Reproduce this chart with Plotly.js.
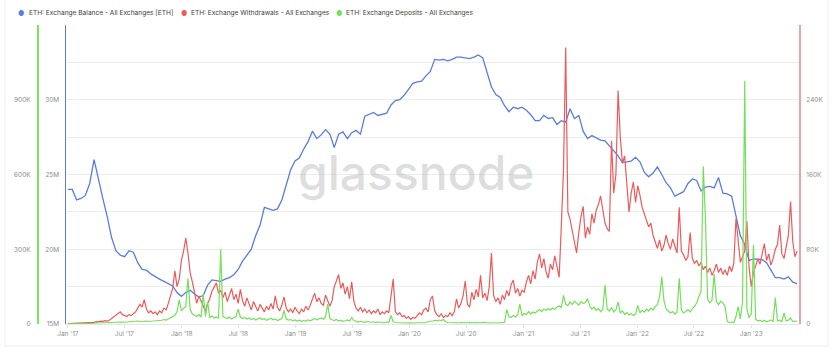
<!DOCTYPE html>
<html><head><meta charset="utf-8">
<script src="https://cdn.plot.ly/plotly-3.0.1.min.js"></script>
<style>html,body{margin:0;padding:0;background:#fff;}#chart{width:832px;height:356px;}</style>
</head><body><div id="chart"></div>
<script>
// ---- data ----
const seriesStart = '2017-01-01';
const balanceStepDays = 14;   // ETH balance sampled every 2 weeks
const flowStepDays = 7;       // withdrawals / deposits sampled weekly

// ETH: Exchange Balance, millions of ETH
const balanceM = [
24.0,24.0,23.3,23.4,23.6,24.4,26.0,24.6,23.4,22.2,
20.8,19.9,19.6,19.5,19.9,19.8,19.1,18.65,18.6,18.35,
18.15,18.0,17.85,17.7,17.55,17.1,16.85,17.1,17.25,17.0,
16.8,16.9,17.6,17.95,17.9,17.85,18.0,18.1,18.3,18.65,
19.2,19.6,20.0,20.9,21.6,22.8,22.7,22.6,22.7,23.3,
24.3,25.3,25.9,26.1,26.7,27.2,27.9,27.4,27.65,28.0,
27.7,26.8,27.7,27.85,27.4,27.8,27.95,27.7,28.9,29.0,
29.15,28.95,29.05,29.1,29.65,29.95,30.0,30.3,30.7,31.1,
31.2,31.25,31.6,31.9,32.7,32.65,32.7,32.6,32.7,32.85,
32.85,32.8,32.75,32.85,33.0,32.8,31.9,30.85,30.35,30.15,
29.6,29.2,29.5,29.4,29.5,29.3,29.0,28.6,28.6,28.95,
28.75,28.8,28.35,28.6,28.5,29.4,28.75,28.95,27.9,27.4,
27.6,27.45,27.3,27.25,26.9,26.6,26.25,25.8,25.85,25.9,
26.15,25.85,25.15,24.85,25.1,25.5,25.0,24.45,24.1,23.55,
23.7,23.85,24.4,24.7,24.6,23.9,24.15,24.2,24.1,24.8,
23.75,23.7,23.55,22.2,20.9,20.3,19.25,19.35,19.3,19.3,
19.1,18.6,18.1,18.1,18.0,18.15,17.8,17.7
];

// ETH: Exchange Withdrawals, thousands of ETH
const withdrawalsK = [
0.5,0.6,0.8,0.7,1,0.9,1.2,1,1.3,1.5,
1.5,2,1.8,2.5,2.2,3,2.8,3.5,3,4,
6,7,9,11,13,10,9,8,10,9,
11,13,17,21,18,26,16,12,14,11,
13,10,14,12,17,15,22,30,38,57,
40,48,68,78,92,76,55,45,33,22,
30,24,19,14,22,27,35,40,44,33,
36,28,34,24,30,38,26,32,22,37,
25,19,28,22,15,24,18,14,21,17,
13,19,15,22,16,30,18,14,20,29,
17,13,16,12,18,14,11,16,13,19,
15,20,26,33,24,28,22,20,31,24,
19,25,40,46,53,38,44,32,40,27,
45,24,17,14,18,13,16,12,15,11,
14,12,16,10,13,11,14,12,28,48,
13,10,12,8,9,6,8,5,7,6,
9,12,10,15,17,13,26,30,14,10,
8,11,7,9,8,12,9,13,27,17,
22,30,46,21,18,34,26,37,29,52,
28,33,25,40,76,30,24,28,21,31,
26,36,30,42,47,33,38,30,36,34,
45,52,43,57,48,66,75,60,70,56,
49,64,58,73,62,50,105,165,296,120,
112,100,85,76,98,115,126,92,104,96,
118,108,122,128,137,120,108,102,99,196,
140,160,250,200,172,180,150,120,140,152,
130,148,138,125,118,112,104,108,95,88,
81,90,78,84,95,86,80,91,82,76,
125,78,74,68,72,98,70,65,68,62,
66,58,62,55,60,52,57,64,55,60,
53,58,52,62,56,65,113,90,66,72,
78,110,60,40,55,62,70,64,74,86,
68,75,63,70,80,85,106,75,70,82,
95,131,88,72,78
];

// ETH: Exchange Deposits, thousands of ETH
const depositsK = [
0.5,0.5,1,1,1.5,1.5,2,2,2.5,3,
3,3.5,3,4,4.5,4,5,5,5.5,6,
6,5,7,6,7,8,7,8,9,8,
9,10,12,10,11,14,12,10,11,12,
13,11,14,15,18,16,20,24,28,35,
50,97,55,62,70,183,60,40,34,30,
38,28,120,30,89,25,32,24,28,22,
300,30,26,22,28,20,26,30,60,28,
22,26,20,24,18,22,16,20,25,18,
21,15,19,23,17,20,14,18,22,55,
20,16,18,13,16,12,15,11,14,12,
16,13,18,22,17,20,24,19,28,80,
22,17,14,18,12,15,11,13,16,12,
26,14,10,8,11,9,7,10,8,7,
9,6,8,7,9,6,8,7,34,9,
6,5,6,4,5,4,5,4,3,4,
5,4,6,5,7,8,10,12,15,13,
16,14,18,9,6,5,7,5,6,4,
6,5,7,5,6,4,5,6,4,5,
7,5,6,4,5,6,5,4,6,5,
7,58,30,26,34,28,36,80,34,42,
38,50,40,48,44,52,58,50,60,54,
62,56,64,58,68,72,66,115,80,74,
88,78,92,84,76,90,82,86,102,72,
60,68,55,62,50,58,156,60,52,66,
48,56,89,44,52,38,46,36,42,34,
40,75,45,55,48,60,52,64,56,70,
78,110,189,95,60,52,44,50,40,48,
183,56,44,50,58,48,62,70,85,110,
130,633,424,100,85,95,200,90,78,92,
84,70,10,6,8,5,30,70,20,90,
975,60,25,40,317,20,12,15,10,14,
9,12,16,10,105,12,15,10,45,12,
15,24,10,12,9
];

// axis ticks
const balanceTickVals = [15,17.5,20,22.5,25,27.5,30,32.5,35];
const balanceTickText = ['15M','','20M','','25M','','30M','',''];
const withdrawTickVals = [0,80,160,240];
const withdrawTickText = ['0','80K','160K','240K'];
const depositTickVals = [0,300,600,900];
const depositTickText = ['0','300K','600K','900K'];

const names = [
  'ETH: Exchange Balance - All Exchanges [ETH]',
  'ETH: Exchange Withdrawals - All Exchanges',
  'ETH: Exchange Deposits - All Exchanges'
];
const colors = ['#5a7ce2', '#ec5b5b', '#74e05a'];

// ---- build ----
function makeDates(n, stepDays) {
  const t0 = Date.parse(seriesStart + 'T00:00:00Z');
  const out = [];
  for (let k = 0; k < n; k++) out.push(new Date(t0 + k * stepDays * 86400000).toISOString().slice(0, 10));
  return out;
}

const W = 832, H = 356, ML = 37, MR = 33, MT = 25, MB = 32;
const PW = W - ML - MR, PH = H - MT - MB;
const fx = p => (p - ML) / PW;         // pixel -> paper x
const fy = p => (H - MB - p) / PH;     // pixel -> paper y

const traces = [
  {x: makeDates(balanceM.length, balanceStepDays), y: balanceM, yaxis: 'y', type: 'scatter', mode: 'lines',
   line: {color: colors[0], width: 1.3}, name: names[0], hoverinfo: 'skip'},
  {x: makeDates(withdrawalsK.length, flowStepDays), y: withdrawalsK, yaxis: 'y2', type: 'scatter', mode: 'lines',
   line: {color: colors[1], width: 1.2}, name: names[1], hoverinfo: 'skip'},
  {x: makeDates(depositsK.length, flowStepDays), y: depositsK, yaxis: 'y3', type: 'scatter', mode: 'lines',
   line: {color: colors[2], width: 1.2}, name: names[2], hoverinfo: 'skip'}
];

const tickFont = {family: 'Inter, "Open Sans", sans-serif', size: 6.5, color: '#8c8c8c'};

const legendPos = [[21, 27], [184, 189], [339, 344]];
const annotations = [];
names.forEach((n, k) => {
  annotations.push({xref: 'paper', yref: 'paper', x: fx(legendPos[k][0]), y: fy(13), xanchor: 'center', yanchor: 'middle',
    text: '●', showarrow: false, font: {size: 7, color: colors[k]}});
  annotations.push({xref: 'paper', yref: 'paper', x: fx(legendPos[k][1]), y: fy(13), xanchor: 'left', yanchor: 'middle',
    text: n, showarrow: false, font: {family: 'Inter, sans-serif', size: 6.6, color: '#3d3d3d'}});
});
annotations.push({xref: 'paper', yref: 'paper', x: fx(416), y: fy(172), xanchor: 'center', yanchor: 'middle',
  text: 'glassnode', showarrow: false, font: {family: 'Inter, sans-serif', size: 48, color: 'rgba(150,150,150,0.32)', weight: 500}});

const layout = {
  width: W, height: H, autosize: false,
  margin: {l: ML, r: MR, t: MT, b: MB, pad: 0},
  paper_bgcolor: '#fff', plot_bgcolor: '#fff',
  showlegend: false,
  font: {family: 'Inter, sans-serif'},
  xaxis: {type: 'date', domain: [fx(66), 1], range: ['2016-12-26', '2023-06-03'],
    tick0: '2017-01-01', dtick: 'M6', tickformat: "%b '%y",
    showgrid: false, zeroline: false, showline: true, linecolor: '#e6e6e6', linewidth: 1,
    ticks: 'outside', ticklen: 3, tickcolor: '#e3e3e3', tickfont: tickFont},
  yaxis: {range: [15, 35], tickmode: 'array', tickvals: balanceTickVals, ticktext: balanceTickText,
    showgrid: true, gridcolor: '#ececec', gridwidth: 1, zeroline: false,
    showline: true, linecolor: colors[0], linewidth: 1.5, ticks: '', ticklabelstandoff: 4, tickfont: tickFont},
  yaxis2: {overlaying: 'y', side: 'right', anchor: 'x', range: [0, 320], tickmode: 'array',
    tickvals: withdrawTickVals, ticktext: withdrawTickText, showgrid: false, zeroline: false,
    showline: true, linecolor: '#e8a4a4', linewidth: 2, ticks: '', ticklabelstandoff: 4, tickfont: tickFont},
  yaxis3: {overlaying: 'y', side: 'left', anchor: 'free', position: 0, range: [0, 1200], tickmode: 'array',
    tickvals: depositTickVals, ticktext: depositTickText, showgrid: false, zeroline: false,
    showline: true, linecolor: '#80e263', linewidth: 1.5, ticks: '', ticklabelstandoff: 5, tickfont: tickFont},
  shapes: [{type: 'rect', xref: 'paper', yref: 'paper', x0: fx(5), x1: fx(828), y0: fy(346), y1: fy(-10),
    line: {color: '#efefef', width: 1}, fillcolor: 'rgba(0,0,0,0)', layer: 'below'}],
  annotations: annotations
};

Plotly.newPlot('chart', traces, layout, {displayModeBar: false, staticPlot: true});
</script>
</body></html>
